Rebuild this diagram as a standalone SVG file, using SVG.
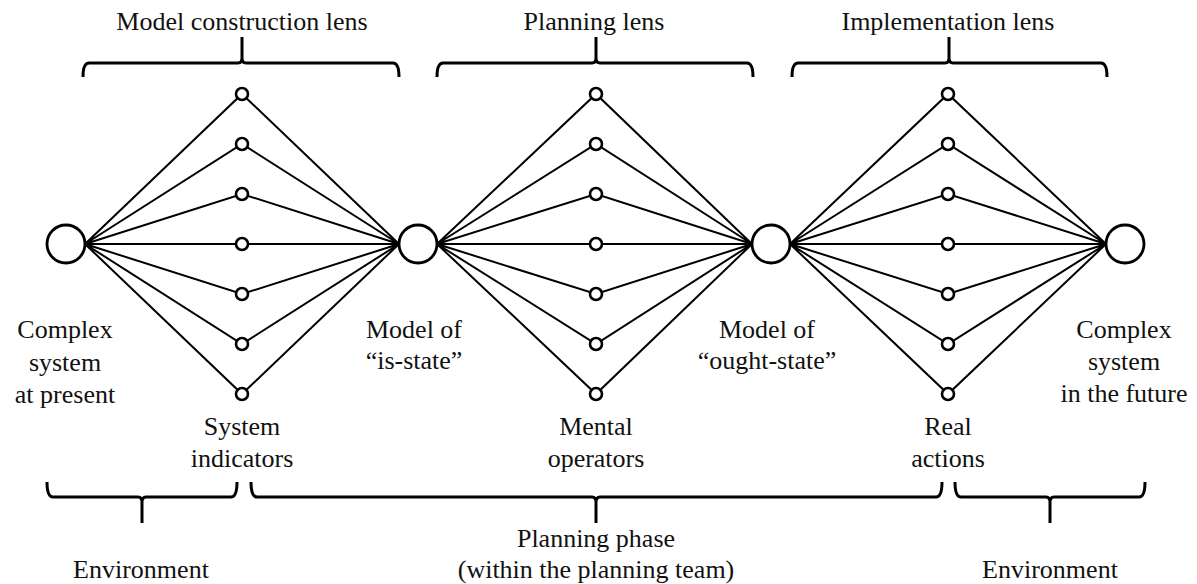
<svg xmlns="http://www.w3.org/2000/svg" width="1197" height="584" viewBox="0 0 1197 584">
<style>
text{font-family:'Liberation Serif','DejaVu Serif',serif;font-size:26px;fill:#111;text-anchor:middle}
.big{fill:#fff;stroke:#000;stroke-width:2.8}
.sm{fill:#fff;stroke:#000;stroke-width:2.6}
.ln{stroke:#000;stroke-width:2;fill:none}
.br{stroke:#000;stroke-width:3;fill:none;stroke-linecap:butt}
</style>
<rect width="1197" height="584" fill="#fff"/>
<g id="connectors">
<path class="ln" d="M85,244L242,94L399,244M85,244L242,144L399,244M85,244L242,194L399,244M85,244L242,244L399,244M85,244L242,294L399,244M85,244L242,344L399,244M85,244L242,394L399,244"/>
<path class="ln" d="M437,244L596,94L752,244M437,244L596,144L752,244M437,244L596,194L752,244M437,244L596,244L752,244M437,244L596,294L752,244M437,244L596,344L752,244M437,244L596,394L752,244"/>
<path class="ln" d="M790,244L948,94L1106,244M790,244L948,144L1106,244M790,244L948,194L1106,244M790,244L948,244L1106,244M790,244L948,294L1106,244M790,244L948,344L1106,244M790,244L948,394L1106,244"/>
</g>
<g id="brackets">
<path class="br" d="M83,77Q83,63 89,63L238,63Q242,63 242,58L242,37M242,58Q242,63 246,63L393,63Q399,63 399,77"/>
<path class="br" d="M437,77Q437,63 443,63L592,63Q596,63 596,58L596,37M596,58Q596,63 600,63L747,63Q753,63 753,77"/>
<path class="br" d="M792,77Q792,63 798,63L945,63Q949,63 949,58L949,37M949,58Q949,63 953,63L1101,63Q1107,63 1107,77"/>
<path class="br" d="M47,482Q47,497 53,497L138,497Q142,497 142,502L142,523M142,502Q142,497 146,497L231,497Q237,497 237,482"/>
<path class="br" d="M251,482Q251,497 257,497L592,497Q596,497 596,502L596,523M596,502Q596,497 600,497L936,497Q942,497 942,482"/>
<path class="br" d="M955,482Q955,497 961,497L1046,497Q1050,497 1050,502L1050,523M1050,502Q1050,497 1054,497L1139,497Q1145,497 1145,482"/>
</g>
<g id="node-present"><circle class="big" cx="66" cy="244" r="19"/><text font-family="Liberation Serif, serif" x="65" y="338">Complex</text><text font-family="Liberation Serif, serif" x="65" y="371">system</text><text font-family="Liberation Serif, serif" x="65" y="403">at present</text></g>
<g id="node-is-state"><circle class="big" cx="418" cy="244" r="19"/><text x="414" y="338">Model of</text><text x="414" y="369">“is-state”</text></g>
<g id="node-ought-state"><circle class="big" cx="771" cy="244" r="19"/><text x="767" y="338">Model of</text><text x="767" y="369">“ought-state”</text></g>
<g id="node-future"><circle class="big" cx="1125" cy="244" r="19"/><text x="1124" y="338">Complex</text><text x="1124" y="370">system</text><text x="1124" y="402">in the future</text></g>
<g id="indicators"><circle class="sm" cx="242" cy="94" r="6"/><circle class="sm" cx="242" cy="144" r="6"/><circle class="sm" cx="242" cy="194" r="6"/><circle class="sm" cx="242" cy="244" r="6"/><circle class="sm" cx="242" cy="294" r="6"/><circle class="sm" cx="242" cy="344" r="6"/><circle class="sm" cx="242" cy="394" r="6"/><text x="242" y="435">System</text><text x="242" y="467">indicators</text></g>
<g id="operators"><circle class="sm" cx="596" cy="94" r="6"/><circle class="sm" cx="596" cy="144" r="6"/><circle class="sm" cx="596" cy="194" r="6"/><circle class="sm" cx="596" cy="244" r="6"/><circle class="sm" cx="596" cy="294" r="6"/><circle class="sm" cx="596" cy="344" r="6"/><circle class="sm" cx="596" cy="394" r="6"/><text x="596" y="435">Mental</text><text x="596" y="467">operators</text></g>
<g id="actions"><circle class="sm" cx="948" cy="94" r="6"/><circle class="sm" cx="948" cy="144" r="6"/><circle class="sm" cx="948" cy="194" r="6"/><circle class="sm" cx="948" cy="244" r="6"/><circle class="sm" cx="948" cy="294" r="6"/><circle class="sm" cx="948" cy="344" r="6"/><circle class="sm" cx="948" cy="394" r="6"/><text x="948" y="435">Real</text><text x="948" y="467">actions</text></g>
<g id="labels">
<text x="242" y="30">Model construction lens</text>
<text x="594" y="30">Planning lens</text>
<text x="948" y="30">Implementation lens</text>
<text x="141" y="578">Environment</text>
<text x="596" y="547">Planning phase</text>
<text x="596" y="578">(within the planning team)</text>
<text x="1050" y="578">Environment</text>
</g>
</svg>
